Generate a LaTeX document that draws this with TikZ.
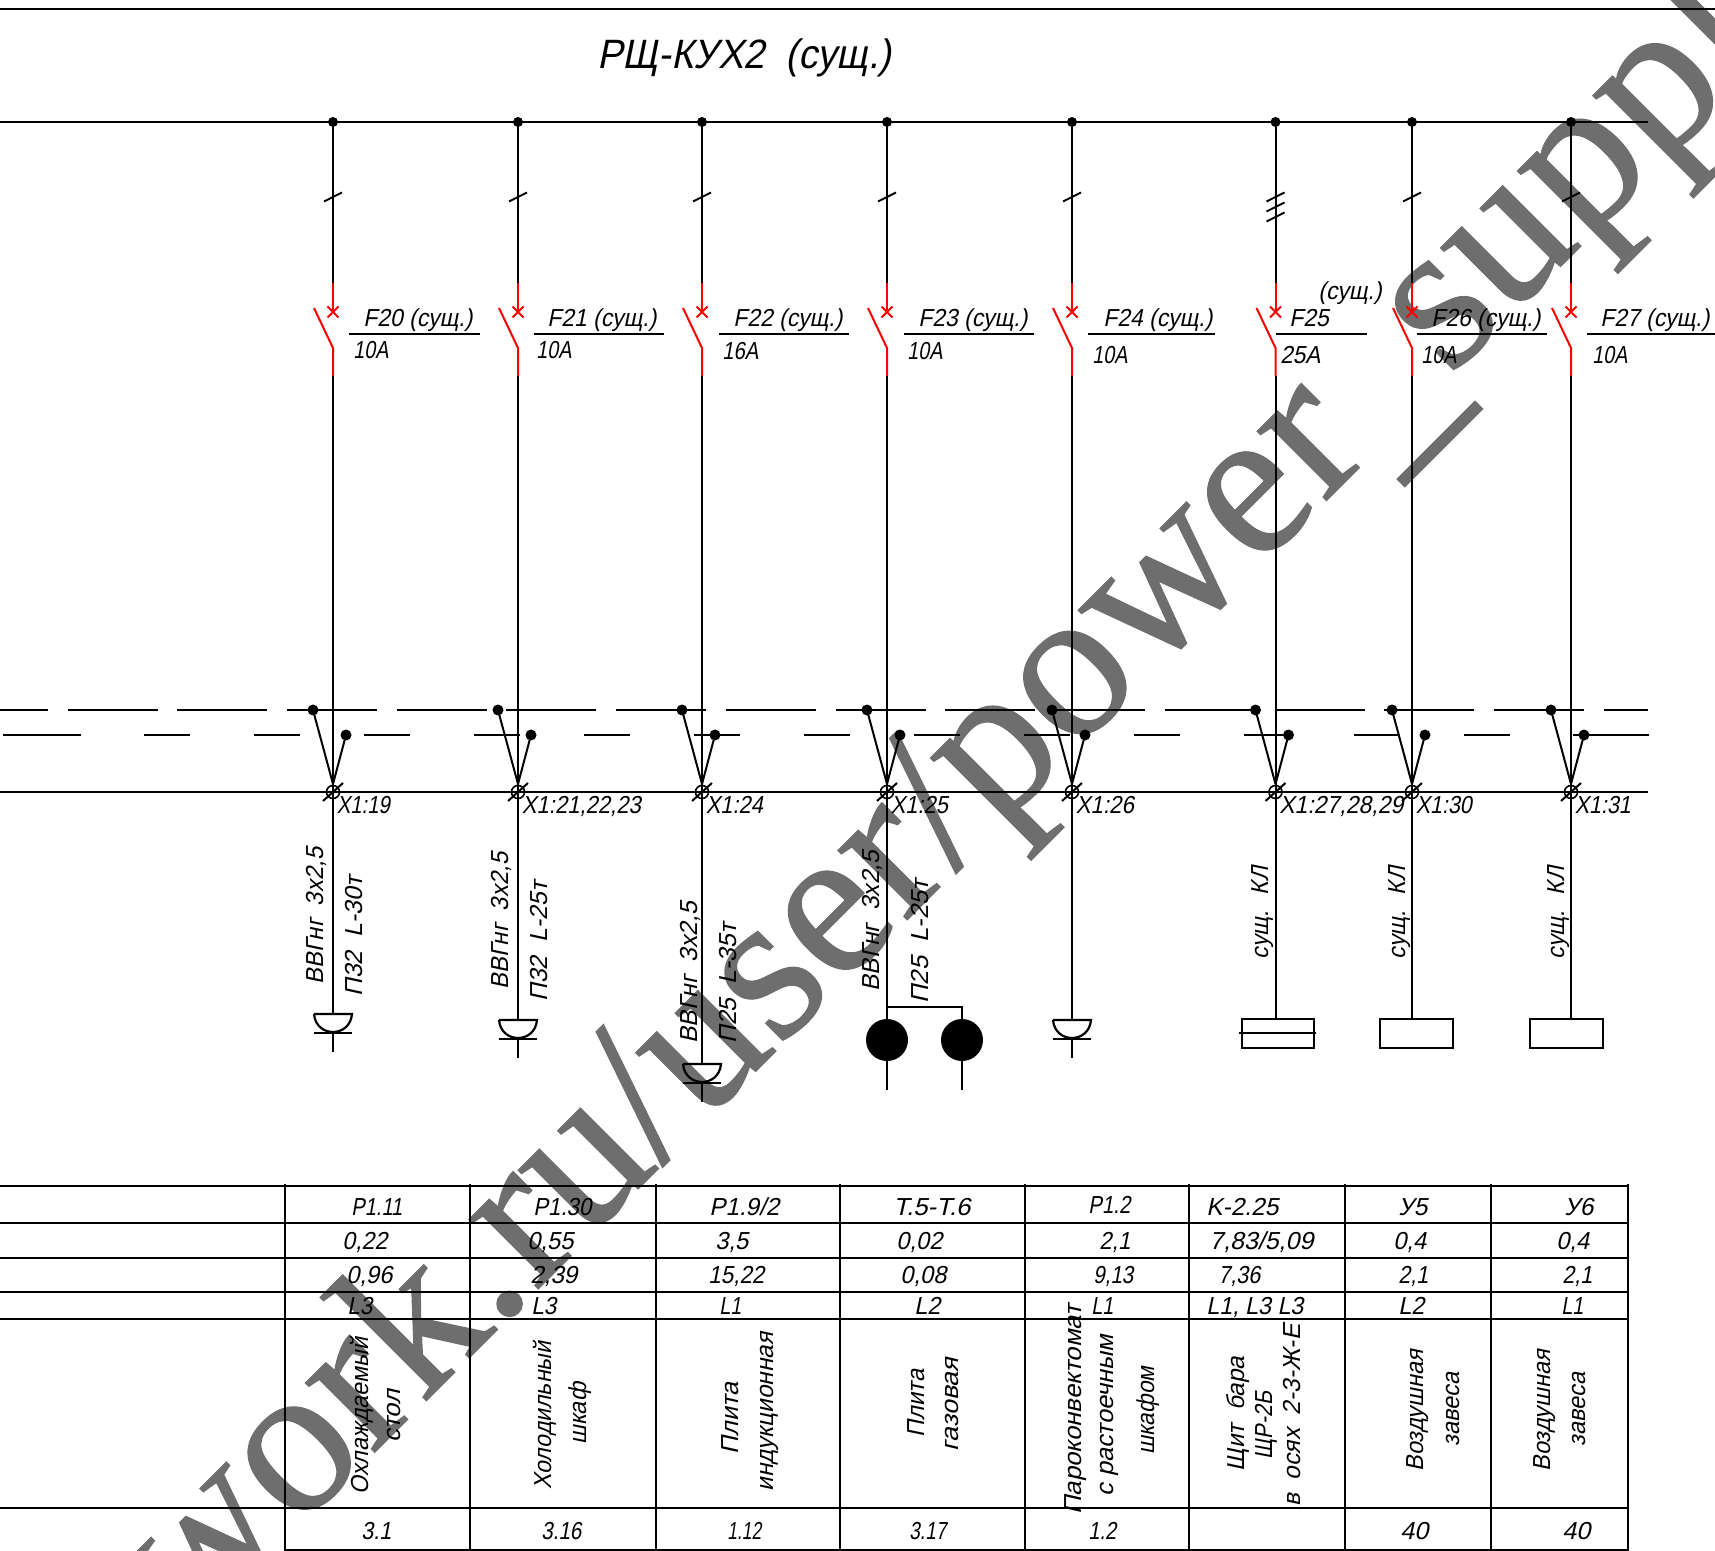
\documentclass[tikz,border=0pt]{standalone}
\usepackage{fontspec}
\usepackage{graphicx}
\setmainfont{Liberation Sans}
\newfontfamily\cadf[FakeSlant=0.2,FakeStretch=0.93]{Liberation Sans}
\newfontfamily\wmf[FakeBold=0.6]{Liberation Serif}
\definecolor{wm}{HTML}{6E6E6E}
\usetikzlibrary{calc}
\newsavebox\fitbox
\newcommand{\fitw}[2]{\sbox\fitbox{#2}\pgfmathsetmacro\fitr{(#1*0.5)/(\the\wd\fitbox)}\scalebox{\fitr}[1]{\usebox\fitbox}}
\tikzset{
  wire/.style={draw=black,line width=1pt},
  redw/.style={draw=red,line width=1pt},
  tbl/.style={draw=black,line width=0.95pt},
  tblv/.style={draw=black,line width=0.7pt},
  lbl/.style={inner sep=0pt,anchor=base west,font=\cadf\fontsize{12.3}{14}\selectfont},
  vlbl/.style={lbl,rotate=90},
  busdot/.style={circle,fill=black,inner sep=0pt,minimum size=5pt},
  wdot/.style={circle,fill=black,inner sep=0pt,minimum size=5.5pt},
  term/.style={circle,draw=black,line width=0.8pt,inner sep=0pt,minimum size=6.5pt},
  lamp/.style={circle,fill=black,inner sep=0pt,minimum size=21pt},
}
\newcommand{\feeder}[2]{%
  \node[busdot] (b#1) at (#2,122) {};
  \node[term] (t#1) at (#2,792) {};
  \coordinate (ra#1) at (#2,283);
  \coordinate (rb#1) at (#2,312);
  \coordinate (rc#1) at (#2,348);
  \coordinate (rd#1) at (#2,376);
  \coordinate (bl#1) at ($(rc#1)+(-19,-40)$);
  \draw[wire] (b#1.center) -- (ra#1);
  \draw[redw] (ra#1) -- (rb#1);
  \draw[redw] ($(rb#1)+(-5.5,-5.5)$) -- ($(rb#1)+(5.5,5.5)$);
  \draw[redw] ($(rb#1)+(-5.5,5.5)$) -- ($(rb#1)+(5.5,-5.5)$);
  \draw[redw] (bl#1) -- (rc#1) -- (rd#1);
  \draw[wire] (rd#1) -- (t#1.center);
  \node[wdot] (da#1) at ($(t#1)+(-20,-82)$) {};
  \node[wdot] (db#1) at ($(t#1)+(13,-57)$) {};
  \draw[wire] (da#1.center) -- ($(t#1)+(0,-8)$);
  \draw[wire] (db#1.center) -- ($(t#1)+(0,-8)$);
  \draw[wire] ($(t#1)+(-10,9)$) -- ($(t#1)+(10,-9)$);
}
\newcommand{\tick}[2]{\draw[wire] ($(#1)+(-9,#2+4.5)$) -- ($(#1)+(9,#2-4.5)$);}
\newcommand{\socket}[3]{%
  \coordinate (s#1) at (#2,#3);
  \draw[wire,line width=1.1pt] ($(s#1)+(-19,0)$) -- ($(s#1)+(19,0)$)
     .. controls ($(s#1)+(18,12)$) and ($(s#1)+(9,18)$) .. ($(s#1)+(0,18)$)
     .. controls ($(s#1)+(-9,18)$) and ($(s#1)+(-18,12)$) .. ($(s#1)+(-19,0)$);
  \draw[wire,line width=1.3pt] ($(s#1)+(-19,19)$) -- ($(s#1)+(19,19)$);
  \draw[wire] ($(s#1)+(0,18)$) -- ($(s#1)+(0,38)$);
}
\begin{document}
\begin{tikzpicture}[x=0.5pt,y=-0.5pt]
\useasboundingbox (0,0) rectangle (1715,1551);
\clip (0,0) rectangle (1715,1551);
% watermark
\node[inner sep=0pt,anchor=base west,rotate=45,text=wm,font=\wmf\fontsize{106.75}{120}\selectfont] (mark) at (187,1640) {work.ru/user/power\raisebox{-9pt}{\_}supply};
% frame and bus
\coordinate (tl) at (0,9); \coordinate (tr) at (1715,9);
\draw[wire] (tl) -- (tr);
\coordinate (bl) at (0,122); \coordinate (br) at (1648,122);
\draw[wire] (bl) -- (br);
\coordinate (hl) at (0,792); \coordinate (hr) at (1648,792);
\draw[wire] (hl) -- (hr);
\coordinate (ua) at (0,710); \coordinate (ub) at (1648,710);
\draw[wire,dash pattern=on 45pt off 9.865pt,dash phase=21.1pt] (ua) -- (ub);
\coordinate (la) at (3,735); \coordinate (lb) at (81,735);
\draw[wire] (la) -- (lb);
\coordinate (lc) at (144,735); \coordinate (ld) at (1515,735);
\draw[wire,dash pattern=on 23pt off 32pt] (lc) -- (ld);
\coordinate (le) at (1573,735); \coordinate (lf) at (1649,735);
\draw[wire] (le) -- (lf);
% title
\node[lbl,font=\cadf\fontsize{20.5}{24}\selectfont] (title) at (597,69) {РЩ-КУХ2 \ (сущ.)};
% feeders
\feeder{20}{333}\feeder{21}{518}\feeder{22}{702}\feeder{23}{887}\feeder{24}{1072}\feeder{25}{1275.5}\feeder{26}{1412}\feeder{27}{1571}
\foreach \i in {20,21,22,23,24,26,27} {\tick{$(b\i)+(0,75)$}{0}}
\tick{$(b25)+(0,75)$}{0}\tick{$(b25)+(0,85)$}{0}\tick{$(b25)+(0,95)$}{0}
% breaker labels
\foreach \i/\xa/\xb/\xt/\t/\xv/\yv/\w/\v in {
  20/349/480/363/F20 (сущ.)/353/359/35/10A,
  21/534/664/547/F21 (сущ.)/536/359/35/10A,
  22/719/849/733/F22 (сущ.)/722/360/36/16A,
  23/904/1034/918/F23 (сущ.)/907/360/35/10A,
  24/1088/1215/1103/F24 (сущ.)/1092/364/35/10A,
  25/1276/1367/1289/F25/1280/364/40/25A,
  26/1417/1547/1431/F26 (сущ.)/1421/364/35/10A,
  27/1587/1715/1600/F27 (сущ.)/1592/364/35/10A} {
  \coordinate (ula\i) at (\xa,334); \coordinate (ulb\i) at (\xb,334);
  \draw[wire,line width=0.8pt] (ula\i) -- (ulb\i);
  \node[lbl] (fn\i) at (\xt,327) {\t};
  \node[lbl] (fv\i) at (\xv,\yv) {\fitw{\w}{\v}};
}
\node[lbl] (fs25) at (1318,300) {(сущ.)};
% terminal labels
\foreach \i/\w/\t in {20/53/X1:19,21/119/{X1:21,22,23},22/57/X1:24,23/57/X1:25,24/58/X1:26,25/124/{X1:27,28,29},26/56/X1:30,27/56/X1:31} {
  \node[lbl] (tl\i) at ($(t\i)+(3.5,21)$) {\fitw{\w}{\t}};
}
% cable labels
\foreach \n/\x/\y/\w/\t in {
 c1a/323/985/137/{ВВГнг \ 3х2,5},
 c1b/362/997/120/П32 \ L-30т,
 c2a/508/990/137/{ВВГнг \ 3х2,5},
 c2b/547/1002/120/П32 \ L-25т,
 c3a/697/1044/142/{ВВГнг \ 3х2,5},
 c3b/736/1044/120/П25 \ L-35т,
 c4a/879/992/141/{ВВГнг \ 3х2,5},
 c4b/928/1004/124/П25 \ L-25т,
 c6/1268/960/93/сущ. \ КЛ,
 c7/1405/960/93/сущ. \ КЛ,
 c8/1564/960/93/сущ. \ КЛ} {
  \node[vlbl] (\n) at (\x,\y) {\fitw{\w}{\t}};
}
% loads
\draw[wire] (t20.center) -- (333,1014); \socket{20}{333}{1014}
\draw[wire] (t21.center) -- (518,1020); \socket{21}{518}{1020}
\draw[wire] (t22.center) -- (702,1064); \socket{22}{702}{1064}
\draw[wire] (t24.center) -- (1072,1020); \socket{24}{1072}{1020}
\node[lamp] (la1) at (887,1040) {};
\node[lamp] (la2) at (962,1040) {};
\draw[wire] (t23.center) -- (la1.center);
\coordinate (lj) at (887,1007); \coordinate (lk) at (962,1007);
\draw[wire] (lj) -- (lk) -- (la2.center);
\coordinate (le1) at (887,1090); \coordinate (le2) at (962,1090);
\draw[wire] (la1.center) -- (le1);
\draw[wire] (la2.center) -- (le2);
\node[draw=black,line width=1pt,inner sep=0pt,minimum width=36pt,minimum height=14.3pt] (bx25) at (1277.5,1033.5) {};
\coordinate (bxl) at (1239,1033); \coordinate (bxr) at (1316,1033);
\draw[wire] (bxl) -- (bxr);
\node[draw=black,line width=1pt,inner sep=0pt,minimum width=36.5pt,minimum height=14.3pt] (bx26) at (1416.5,1033.5) {};
\node[draw=black,line width=1pt,inner sep=0pt,minimum width=36.5pt,minimum height=14.3pt] (bx27) at (1566.5,1033.5) {};
\draw[wire] (t25.center) -- (bx25.north -| t25);
\draw[wire] (t26.center) -- (bx26.north -| t26);
\draw[wire] (t27.center) -- (bx27.north -| t27);
% table grid
\foreach \y in {1186,1223,1258,1292,1319,1508} {
  \coordinate (rl\y) at (0,\y); \coordinate (rr\y) at (1628,\y);
  \draw[tbl] (rl\y) -- (rr\y);
}
\coordinate (rlz) at (285,1550); \coordinate (rrz) at (1628,1550);
\draw[tbl] (rlz) -- (rrz);
\foreach \k/\x in {a/285,b/470,c/656,d/840,e/1025,f/1189,g/1345,h/1491,i/1628} {
  \coordinate (ct\k) at (\x,1184); \coordinate (cb\k) at (\x,1551);
  \draw[tblv] (ct\k) -- (cb\k);
}
% table rows
\foreach \n/\x/\y/\w/\t in {
 a1/351/1215/51/P1.11,a2/533/1215/58/P1.30,a3/709/1215/70/{P1.9/2},a4/893/1215/77/T.5-T.6,a5/1088/1213/42/P1.2,a6/1206/1215/72/K-2.25,a7/1398/1215/29/У5,a8/1564/1215/29/У6,
 b1/342/1249/45/{0,22},b2/527/1249/46/{0,55},b3/715/1249/33/{3,5},b4/896/1249/46/{0,02},b5/1099/1249/31/{2,1},b6/1209/1249/104/{7,83/5,09},b7/1393/1249/33/{0,4},b8/1556/1249/33/{0,4},
 c1/346/1283/46/{0,96},c2/530/1283/47/{2,39},c3/708/1283/56/{15,22},c4/900/1283/46/{0,08},c5/1093/1283/40/{9,13},c6/1218/1283/42/{7,36},c7/1398/1283/30/{2,1},c8/1562/1283/30/{2,1},
 d1/347/1314/25/L3,d2/531/1314/25/L3,d3/719/1314/22/L1,d4/914/1314/26/L2,d5/1091/1314/22/L1,d6/1206/1314/97/{L1, L3 L3},d7/1398/1314/26/L2,d8/1561/1314/22/L1,
 e1/361/1539/30/3.1,e2/541/1539/40/3.16,e3/727/1539/34/1.12,e4/909/1539/37/3.17,e5/1088/1539/28/1.2,e7/1400/1539/28/40,e8/1562/1539/28/40} {
  \node[lbl] (cell\n) at (\x,\y) {\fitw{\w}{\t}};
}
% names
\foreach \n/\x/\y/\w/\t in {
 n1/368.5/1495/157/Охлаждаемый,n2/400/1443/53/стол,
 n3/551/1490/148/Холодильный,n4/586/1445/62/шкаф,
 n5/738/1455/72/Плита,n6/773/1492/159/индукционная,
 n7/924/1438/68/Плита,n8/958/1452/94/газовая,
 n9/1081/1515/210/Пароконвектомат,n10/1113.5/1497/162/с растоечным,n11/1154/1455/88/шкафом,
 n12/1244/1472/115/Щит \ бара,n13/1272/1460/68/ЩР-2Б,n14/1300.6/1507/182/в \ осях \ 2-3-Ж-Е,
 n15/1423/1472/122/Воздушная,n16/1459/1447/74/завеса,
 n17/1550/1472/122/Воздушная,n18/1585/1447/74/завеса} {
  \node[vlbl] (\n) at (\x,\y) {\fitw{\w}{\t}};
}
\end{tikzpicture}
\end{document}
